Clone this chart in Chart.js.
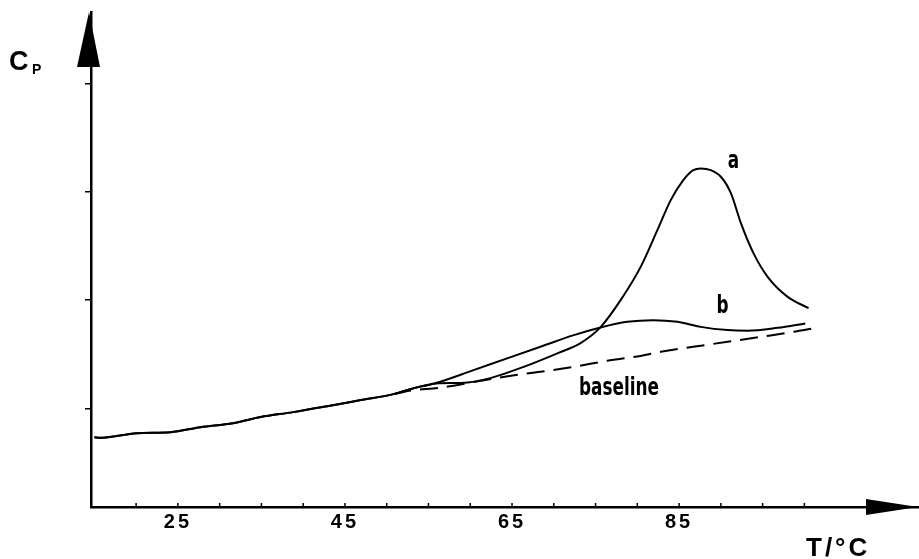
<!DOCTYPE html>
<html>
<head>
<meta charset="utf-8">
<script src="https://cdn.jsdelivr.net/npm/chart.js@4.4.1/dist/chart.umd.min.js"></script>
<style>
  html, body { margin: 0; padding: 0; background: #fff; }
  #wrap { width: 919px; height: 559px; }
</style>
</head>
<body>
<div id="wrap"><canvas id="cp-chart"></canvas></div>
<script>
// Cp (arbitrary units) vs temperature (°C)
// common part of curves a and b, before they split
const sharedT = [15, 15.6, 20.1, 24.1, 27.7, 31.6, 34.9, 38.8, 42.9, 46.9, 50.8, 52.8, 55.6];
const sharedCp = [0.735, 0.729, 0.772, 0.781, 0.827, 0.864, 0.920, 0.966, 1.021, 1.077, 1.132, 1.178, 1.228];

const aT = [56.4, 59.7, 62.4, 66.4, 70.5, 73.2, 75.6, 78.0, 80.4, 82.4, 84.0, 85.5, 86.7, 87.6, 88.8, 90.0, 91.2, 92.4, 93.9, 95.6, 98.0, 100.5];
const aCp = [1.232, 1.240, 1.280, 1.384, 1.511, 1.603, 1.751, 2.000, 2.307, 2.646, 2.923, 3.108, 3.200, 3.216, 3.200, 3.139, 2.988, 2.711, 2.434, 2.215, 2.030, 1.926];

const bT = [56.4, 60.4, 64.5, 68.4, 72.4, 75.6, 78.8, 81.9, 84.8, 87.6, 90.8, 93.2, 96.8, 100.1];
const bCp = [1.246, 1.354, 1.464, 1.569, 1.677, 1.748, 1.800, 1.815, 1.800, 1.753, 1.723, 1.717, 1.744, 1.785];

const baseT = [50.8, 53.2, 56.1, 60.4, 64.5, 68.4, 72.4, 76.4, 80.4, 82.8, 86.7, 90.8, 94.8, 98.7, 101.1];
const baseCp = [1.132, 1.169, 1.188, 1.243, 1.298, 1.338, 1.384, 1.440, 1.485, 1.523, 1.569, 1.615, 1.661, 1.707, 1.739];

const xTicks = [20, 25, 30, 35, 40, 45, 50, 55, 60, 65, 70, 75, 80, 85, 90, 95, 100];
const xLabels = [25, 45, 65, 85];
const yTicks = [1, 2, 3, 4];

// curve labels: text, T, Cp
const curveLabels = [
  ["a", 91.5, 3.28],
  ["b", 90.2, 1.94],
  ["baseline", 77.8, 1.18],
];

function toPoints(ts, vs) {
  return ts.map((t, i) => ({ x: t, y: vs[i] }));
}

// arrows, axis tick marks and texts
const decor = {
  id: "decor",
  afterDraw(chart) {
    const { ctx, chartArea: ca, scales } = chart;
    ctx.save();
    ctx.fillStyle = "#000";
    ctx.strokeStyle = "#000";
    ctx.letterSpacing = "0px";

    // small inward ticks on the T axis
    ctx.lineWidth = 1.5;
    xTicks.forEach((v) => {
      const px = scales.x.getPixelForValue(v);
      ctx.beginPath();
      ctx.moveTo(px, ca.bottom);
      ctx.lineTo(px, ca.bottom - 4);
      ctx.stroke();
    });

    // arrow heads
    ctx.beginPath();
    ctx.moveTo(ca.left - 2, ca.top);
    ctx.lineTo(ca.left - 14, ca.top + 55);
    ctx.lineTo(ca.left + 9, ca.top + 55);
    ctx.closePath();
    ctx.fill();

    ctx.beginPath();
    ctx.moveTo(ca.right, ca.bottom);
    ctx.lineTo(ca.right - 52, ca.bottom - 8);
    ctx.lineTo(ca.right - 52, ca.bottom + 8);
    ctx.closePath();
    ctx.fill();

    // axis titles
    ctx.textBaseline = "alphabetic";
    ctx.textAlign = "left";
    ctx.font = 'bold 27px "Liberation Sans"';
    ctx.fillText("C", 9, 70);
    ctx.font = 'bold 14px "Liberation Sans"';
    ctx.fillText("P", 32, 74);

    ctx.font = 'bold 26px "Liberation Sans"';
    ctx.letterSpacing = "3px";
    ctx.fillText("T/°C", 806, 556);
    ctx.letterSpacing = "0px";

    // curve labels in a condensed bold face
    ctx.font = 'bold 25px "DejaVu Sans Condensed"';
    curveLabels.forEach(([txt, t, v]) => {
      const px = scales.x.getPixelForValue(t);
      const py = scales.y.getPixelForValue(v);
      ctx.save();
      ctx.translate(px, py);
      ctx.scale(0.75, 1);
      ctx.textAlign = "center";
      ctx.textBaseline = "middle";
      ctx.fillText(txt, 0, 0);
      ctx.restore();
    });
    ctx.restore();
  },
};

// spaced digits on the T axis labels
const spacedTicks = {
  id: "spacedTicks",
  beforeDraw(chart) { chart.ctx.letterSpacing = "3px"; },
  beforeDatasetsDraw(chart) { chart.ctx.letterSpacing = "0px"; },
};

const lineStyle = {
  borderColor: "#000",
  backgroundColor: "#000",
  borderWidth: 2,
  pointRadius: 0,
  fill: false,
  cubicInterpolationMode: "monotone",
};

const config = {
  type: "line",
  data: {
    datasets: [
      { label: "a", data: toPoints(sharedT.concat(aT), sharedCp.concat(aCp)), ...lineStyle },
      { label: "b", data: toPoints(sharedT.concat(bT), sharedCp.concat(bCp)), ...lineStyle },
      { label: "baseline", data: toPoints(baseT, baseCp), ...lineStyle, borderDash: [18, 9] },
    ],
  },
  options: {
    responsive: true,
    maintainAspectRatio: false,
    animation: false,
    layout: { padding: { left: 85, top: 12, right: 1, bottom: 22 } },
    plugins: { legend: { display: false }, tooltip: { enabled: false } },
    scales: {
      x: {
        type: "linear",
        min: 14.6,
        max: 113.6,
        afterBuildTicks: (scale) => { scale.ticks = xTicks.map((v) => ({ value: v })); },
        grid: { display: false, drawTicks: false },
        border: { display: true, color: "#000", width: 2.5 },
        ticks: {
          autoSkip: false,
          maxRotation: 0,
          padding: 3,
          color: "#000",
          font: { family: "Liberation Sans", size: 20, weight: "bold" },
          callback: (v) => (xLabels.includes(v) ? String(v) : ""),
        },
      },
      y: {
        type: "linear",
        min: 0.09,
        max: 4.66,
        afterBuildTicks: (scale) => { scale.ticks = yTicks.map((v) => ({ value: v })); },
        grid: { drawOnChartArea: false, drawTicks: true, tickLength: 6, color: "#000", lineWidth: 1.5 },
        border: { display: true, color: "#000", width: 2.5 },
        ticks: { display: false },
      },
    },
  },
  plugins: [spacedTicks, decor],
};

new Chart(document.getElementById("cp-chart").getContext("2d"), config);
</script>
</body>
</html>
